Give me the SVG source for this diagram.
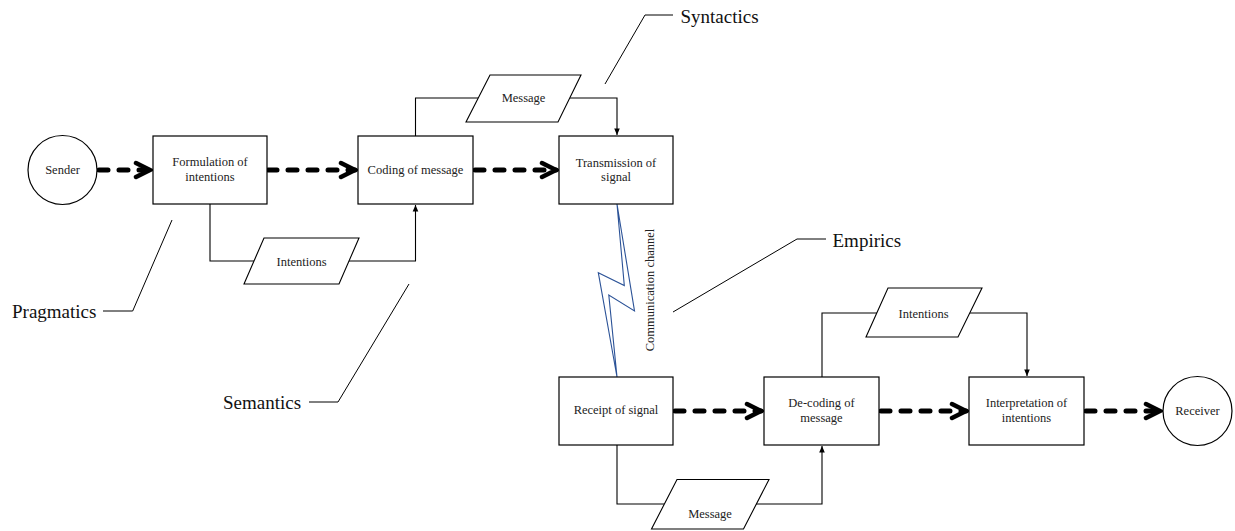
<svg xmlns="http://www.w3.org/2000/svg" width="1235" height="531" viewBox="0 0 1235 531">
<style>
  .box { fill: #fff; stroke: #000; stroke-width: 1.2; }
  .para { fill: #fff; stroke: #000; stroke-width: 1.1; }
  .t { font-family: "Liberation Serif", "Times New Roman", serif; font-size: 12.5px; fill: #222; text-anchor: middle; }
  .lbl { font-family: "Liberation Serif", "Times New Roman", serif; font-size: 19px; fill: #111; }
  .flow { fill: none; stroke: #000; stroke-width: 5; stroke-dasharray: 9 11; stroke-linecap: round; }
  .thin { fill: none; stroke: #000; stroke-width: 1.1; }
  .lead { fill: none; stroke: #000; stroke-width: 1; }
  .bolt { fill: none; stroke: #2B5297; stroke-width: 1.1; stroke-linejoin: miter; }
</style>
<defs>
  <marker id="chev" markerUnits="userSpaceOnUse" viewBox="0 0 20 20" refX="17" refY="10" markerWidth="20" markerHeight="20" orient="auto">
    <path d="M3,3 L17,10 L3,17" fill="none" stroke="#000" stroke-width="4.5" stroke-linecap="round" stroke-linejoin="miter"/>
  </marker>
  <marker id="tri" markerUnits="userSpaceOnUse" viewBox="0 0 10 10" refX="9" refY="5" markerWidth="8" markerHeight="8" orient="auto">
    <path d="M1,1.5 L9,5 L1,8.5 Z" fill="#000"/>
  </marker>
</defs>

<g id="connectors">
  <!-- thick dashed flows -->
  <line class="flow" x1="99" y1="170" x2="150" y2="170" marker-end="url(#chev)"/>
  <line class="flow" x1="268" y1="170" x2="355" y2="170" marker-end="url(#chev)"/>
  <line class="flow" x1="475" y1="170" x2="556" y2="170" marker-end="url(#chev)"/>
  <line class="flow" x1="675" y1="411" x2="761" y2="411" marker-end="url(#chev)"/>
  <line class="flow" x1="881" y1="411" x2="966" y2="411" marker-end="url(#chev)"/>
  <line class="flow" x1="1086" y1="411" x2="1160" y2="411" marker-end="url(#chev)"/>
  <!-- thin data connectors -->
  <polyline class="thin" points="210,204 210,261 254,261"/>
  <polyline class="thin" points="349,261 415.5,261 415.5,205" marker-end="url(#tri)"/>
  <polyline class="thin" points="415.5,136 415.5,98 478,98"/>
  <polyline class="thin" points="570,98 617,98 617,135" marker-end="url(#tri)"/>
  <polyline class="thin" points="617,445 617,504 664,504"/>
  <polyline class="thin" points="756,504 822,504 822,446" marker-end="url(#tri)"/>
  <polyline class="thin" points="822,377 822,313 877,313"/>
  <polyline class="thin" points="970,313 1027,313 1027,376" marker-end="url(#tri)"/>
  <!-- communication channel -->
  <polygon id="channel" class="bolt" points="617,204 624.3,285.5 598.3,272.7 617,377 608.8,295 634.5,311"/>
  <text class="t" transform="translate(654,290) rotate(-90)">Communication channel</text>
</g>

<g id="sender">
  <circle class="box" cx="62.5" cy="170" r="34.5"/>
  <text class="t" x="62.5" y="174">Sender</text>
</g>
<g id="formulation">
  <rect class="box" x="153" y="136" width="114" height="68"/>
  <text class="t" x="210" y="166">Formulation of</text>
  <text class="t" x="210" y="181">intentions</text>
</g>
<g id="coding">
  <rect class="box" x="358" y="136" width="115" height="68"/>
  <text class="t" x="415.5" y="174">Coding of message</text>
</g>
<g id="transmission">
  <rect class="box" x="559" y="136" width="114" height="68"/>
  <text class="t" x="616" y="166.5">Transmission of</text>
  <text class="t" x="616" y="181">signal</text>
</g>
<g id="intentions1">
  <polygon class="para" points="264,238 359,238 339,284 244,284"/>
  <text class="t" x="301.5" y="266">Intentions</text>
</g>
<g id="message1">
  <polygon class="para" points="490,75 581,75 558,122 466,122"/>
  <text class="t" x="523.5" y="102">Message</text>
</g>
<g id="receipt">
  <rect class="box" x="559" y="377" width="114" height="68"/>
  <text class="t" x="616" y="414">Receipt of signal</text>
</g>
<g id="decoding">
  <rect class="box" x="764" y="377" width="115" height="68"/>
  <text class="t" x="821.5" y="407">De-coding of</text>
  <text class="t" x="821.5" y="422">message</text>
</g>
<g id="interpretation">
  <rect class="box" x="969" y="377" width="115" height="68"/>
  <text class="t" x="1026.5" y="407">Interpretation of</text>
  <text class="t" x="1026.5" y="422">intentions</text>
</g>
<g id="receiver">
  <circle class="box" cx="1197.5" cy="411" r="34.5"/>
  <text class="t" x="1197.5" y="415">Receiver</text>
</g>
<g id="intentions2">
  <polygon class="para" points="888,288 982,288 958,337 866,337"/>
  <text class="t" x="923.5" y="318">Intentions</text>
</g>
<g id="message2">
  <polygon class="para" points="677,479.5 769,479.5 743.5,529 651.5,529"/>
  <text class="t" x="710" y="518">Message</text>
</g>

<g id="pragmatics">
  <polyline class="lead" points="172,220 132.7,311 103,311"/>
  <text class="lbl" x="12" y="318">Pragmatics</text>
</g>
<g id="semantics">
  <polyline class="lead" points="409,284 338,402 309,402"/>
  <text class="lbl" x="223" y="409">Semantics</text>
</g>
<g id="syntactics">
  <polyline class="lead" points="605,84 645,15 673,15"/>
  <text class="lbl" x="680.5" y="23">Syntactics</text>
</g>
<g id="empirics">
  <polyline class="lead" points="673,312 797,239 826,239"/>
  <text class="lbl" x="832.5" y="247">Empirics</text>
</g>
</svg>
